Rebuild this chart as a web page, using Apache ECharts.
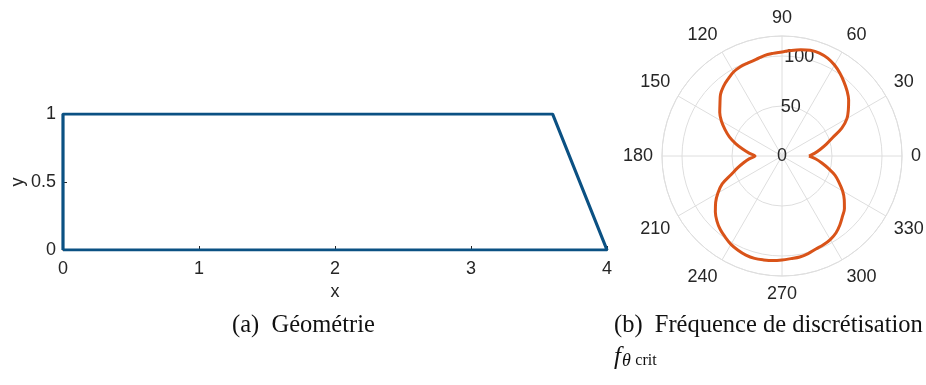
<!DOCTYPE html>
<html>
<head>
<meta charset="utf-8">
<script src="https://cdn.jsdelivr.net/npm/echarts@6/dist/echarts.min.js"></script>
<style>
  html, body { margin: 0; padding: 0; background: #fff; }
  #chart { width: 926px; height: 385px; }
</style>
</head>
<body>
<div id="chart"></div>
<script>
// (a) geometry outline
const geomX = [0, 0, 3.6, 4, 0]
const geomY = [0, 1, 1, 0, 0]
const xTicks = [0, 1, 2, 3, 4]
const yTicks = [0, 0.5, 1]

// (b) critical frequency vs angle (deg)
const fAngle = [
  0, 5, 10, 15, 20, 25, 30, 35, 40, 45, 50, 55, 60, 65, 70, 75, 80, 85,
  90, 95, 100, 105, 110, 115, 120, 125, 130, 135, 140, 145, 150, 155, 160, 165, 170, 175,
  180, 185, 190, 195, 200, 205, 210, 215, 220, 225, 230, 235, 240, 245, 250, 255, 260, 265,
  270, 275, 280, 285, 290, 295, 300, 305, 310, 315, 320, 325, 330, 335, 340, 345, 350, 355, 360
]
const fCrit = [
  27, 33, 39, 46, 54, 66, 75, 81, 87, 92, 96.5, 101, 105, 108, 109.5, 109.5, 108, 106,
  104, 103, 102, 100, 99, 98.5, 97, 94, 91, 87, 81, 76, 70, 63, 56, 48, 40, 33,
  27, 33, 39, 46, 54, 66, 74, 81, 87, 92, 96, 99, 102, 104, 105.5, 106, 105.5, 105,
  104, 103, 102.5, 101, 99, 98, 96.5, 94, 90, 85.5, 81.5, 76, 70, 63, 56.5, 48, 40.5, 34, 27
]
const angleTicks = [0, 30, 60, 90, 120, 150, 180, 210, 240, 270, 300, 330]
const radiusTicks = [0, 50, 100]

const txt = '#262626'
const grid = '#dedede'
const sans = 'Liberation Sans'
const serif = 'Liberation Serif'

const chart = echarts.init(document.getElementById('chart'))
chart.setOption({
  animation: false,
  title: [
    {
      text: '(a)  Géométrie',
      left: 232, top: 313, padding: 0,
      textStyle: { fontFamily: serif, fontSize: 24.5, fontWeight: 'normal', color: '#111' }
    },
    {
      text: '(b)  Fréquence de discrétisation',
      left: 614, top: 313, padding: 0,
      textStyle: { fontFamily: serif, fontSize: 24.5, fontWeight: 'normal', color: '#111' }
    },
    {
      text: '{f|f}{th|θ} {c|crit}',
      left: 614, top: 344, padding: 0,
      textStyle: {
        fontFamily: serif, fontWeight: 'normal', color: '#111',
        rich: {
          f: { fontFamily: serif, fontStyle: 'italic', fontWeight: 'normal', fontSize: 25, color: '#111' },
          th: { fontFamily: serif, fontStyle: 'italic', fontWeight: 'normal', fontSize: 18, color: '#111', padding: [8, 0, 0, 1] },
          c: { fontFamily: serif, fontWeight: 'normal', fontSize: 16, color: '#111', padding: [8, 0, 0, 0] }
        }
      }
    }
  ],
  grid: { left: 63, top: 114, width: 544, height: 136, outerBoundsMode: 'none', containLabel: false },
  xAxis: {
    type: 'value', min: 0, max: 4, interval: 1,
    name: 'x', nameLocation: 'middle', nameGap: 33, nameMoveOverlap: false,
    nameTextStyle: { fontFamily: sans, fontSize: 18, color: txt },
    axisLine: { onZero: false, lineStyle: { color: txt, width: 1 } },
    axisTick: { inside: true, length: 4, lineStyle: { color: txt } },
    axisLabel: {
      fontFamily: sans, fontSize: 18, color: txt, margin: 10,
      formatter: v => xTicks.includes(v) ? String(v) : ''
    },
    splitLine: { show: false }
  },
  yAxis: {
    type: 'value', min: 0, max: 1, interval: 0.5,
    name: 'y', nameLocation: 'middle', nameGap: 36, nameRotate: 90, nameMoveOverlap: false,
    nameTextStyle: { fontFamily: sans, fontSize: 18, color: txt },
    axisLine: { show: true, onZero: false, lineStyle: { color: txt, width: 1 } },
    axisTick: { show: true, inside: true, length: 4, lineStyle: { color: txt } },
    axisLabel: {
      fontFamily: sans, fontSize: 18, color: txt, margin: 7,
      formatter: v => yTicks.includes(v) ? String(v) : ''
    },
    splitLine: { show: false }
  },
  polar: [
    { center: [782, 156], radius: 120 },
    { center: [782, 156], radius: 120 }
  ],
  angleAxis: [
    {
      polarIndex: 0, type: 'value', min: 0, max: 360, interval: 30,
      startAngle: 0, clockwise: false,
      axisLine: { show: true, lineStyle: { color: grid, width: 1 } },
      axisTick: { show: false },
      splitLine: { show: true, lineStyle: { color: grid, width: 1 } },
      axisLabel: {
        fontFamily: sans, fontSize: 18, color: txt, margin: 9,
        formatter: v => angleTicks.includes(v) ? String(v) : ''
      }
    },
    {
      polarIndex: 1, type: 'value', min: 0, max: 360, startAngle: 80, clockwise: false,
      show: false
    }
  ],
  radiusAxis: [
    {
      polarIndex: 0, type: 'value', min: 0, max: 120, interval: 50,
      axisLine: { show: false }, axisTick: { show: false }, axisLabel: { show: false },
      splitLine: { show: true, lineStyle: { color: grid, width: 1 } }
    },
    {
      polarIndex: 1, type: 'value', min: 0, max: 120, interval: 50,
      axisLine: { show: false }, axisTick: { show: false }, splitLine: { show: false },
      axisLabel: {
        fontFamily: sans, fontSize: 18, color: txt, margin: 0,
        align: 'center', verticalAlign: 'middle', showMaxLabel: false,
        formatter: v => radiusTicks.includes(v) ? String(v) : ''
      }
    }
  ],
  series: [
    {
      type: 'line',
      data: geomX.map((x, i) => [x, geomY[i]]),
      symbol: 'none',
      lineStyle: { color: '#0b5183', width: 3.2 },
      z: 3
    },
    {
      type: 'line', coordinateSystem: 'polar', polarIndex: 0,
      data: fAngle.map((a, i) => [fCrit[i], a]),
      symbol: 'none', smooth: 0.35,
      lineStyle: { color: '#d95319', width: 3 },
      z: 3
    }
  ]
})
</script>
</body>
</html>
